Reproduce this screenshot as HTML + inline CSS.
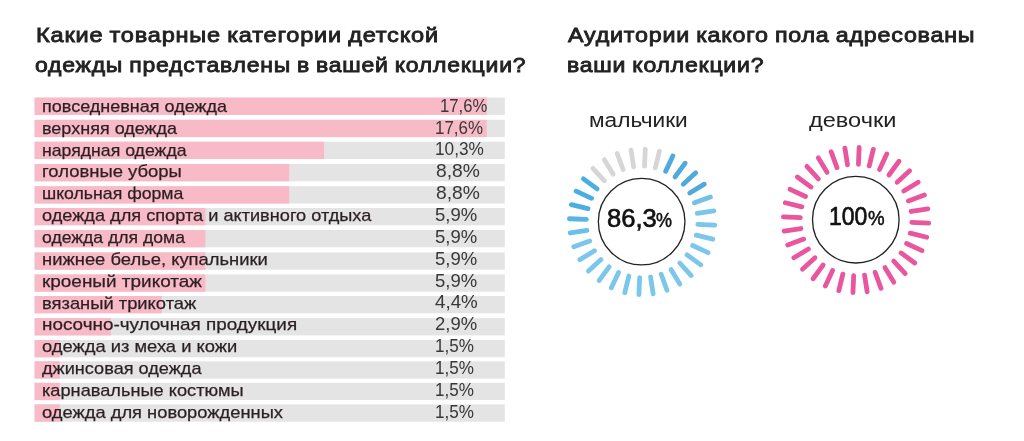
<!DOCTYPE html>
<html lang="ru"><head><meta charset="utf-8"><title>Опрос</title>
<style>
html,body{margin:0;padding:0;background:#fff}
body{width:1024px;height:441px;position:relative;overflow:hidden;font-family:"Liberation Sans", sans-serif}
.t{position:absolute;margin:0;padding:0;white-space:nowrap;transform-origin:0 50%;display:block;font-weight:400}
svg{position:absolute;left:0;top:0}
.txt{position:absolute;left:0;top:0;width:1024px;height:441px;will-change:transform}
</style></head><body>
<svg width="1024" height="441" viewBox="0 0 1024 441" fill="none" stroke-linecap="round" stroke-width="4.8">
<rect x="34.6" y="97.60" width="470.2" height="17.3" fill="#e4e4e4"/>
<rect x="34.6" y="97.60" width="452.2" height="17.3" fill="#f9bac7"/>
<rect x="34.6" y="119.80" width="470.2" height="17.3" fill="#e4e4e4"/>
<rect x="34.6" y="119.80" width="452.2" height="17.3" fill="#f9bac7"/>
<rect x="34.6" y="141.70" width="470.2" height="17.3" fill="#e4e4e4"/>
<rect x="34.6" y="141.70" width="289.5" height="17.3" fill="#f9bac7"/>
<rect x="34.6" y="164.00" width="470.2" height="17.3" fill="#e4e4e4"/>
<rect x="34.6" y="164.00" width="254.6" height="17.3" fill="#f9bac7"/>
<rect x="34.6" y="186.20" width="470.2" height="17.3" fill="#e4e4e4"/>
<rect x="34.6" y="186.20" width="254.6" height="17.3" fill="#f9bac7"/>
<rect x="34.6" y="208.00" width="470.2" height="17.3" fill="#e4e4e4"/>
<rect x="34.6" y="208.00" width="170.8" height="17.3" fill="#f9bac7"/>
<rect x="34.6" y="230.00" width="470.2" height="17.3" fill="#e4e4e4"/>
<rect x="34.6" y="230.00" width="170.8" height="17.3" fill="#f9bac7"/>
<rect x="34.6" y="252.40" width="470.2" height="17.3" fill="#e4e4e4"/>
<rect x="34.6" y="252.40" width="170.8" height="17.3" fill="#f9bac7"/>
<rect x="34.6" y="274.40" width="470.2" height="17.3" fill="#e4e4e4"/>
<rect x="34.6" y="274.40" width="170.8" height="17.3" fill="#f9bac7"/>
<rect x="34.6" y="296.00" width="470.2" height="17.3" fill="#e4e4e4"/>
<rect x="34.6" y="296.00" width="127.2" height="17.3" fill="#f9bac7"/>
<rect x="34.6" y="318.10" width="470.2" height="17.3" fill="#e4e4e4"/>
<rect x="34.6" y="318.10" width="76.2" height="17.3" fill="#f9bac7"/>
<rect x="34.6" y="340.00" width="470.2" height="17.3" fill="#e4e4e4"/>
<rect x="34.6" y="340.00" width="25.2" height="17.3" fill="#f9bac7"/>
<rect x="34.6" y="361.30" width="470.2" height="17.3" fill="#e4e4e4"/>
<rect x="34.6" y="361.30" width="25.2" height="17.3" fill="#f9bac7"/>
<rect x="34.6" y="382.80" width="470.2" height="17.3" fill="#e4e4e4"/>
<rect x="34.6" y="382.80" width="25.2" height="17.3" fill="#f9bac7"/>
<rect x="34.6" y="404.40" width="470.2" height="17.3" fill="#e4e4e4"/>
<rect x="34.6" y="404.40" width="25.2" height="17.3" fill="#f9bac7"/>
<line x1="644.53" y1="166.20" x2="645.27" y2="149.22" stroke="#d6d6d6"/>
<line x1="655.35" y1="167.75" x2="659.39" y2="151.23" stroke="#d6d6d6"/>
<line x1="665.66" y1="171.37" x2="672.85" y2="155.97" stroke="#50a9dd"/>
<line x1="675.07" y1="176.94" x2="685.12" y2="163.23" stroke="#50a9dd"/>
<line x1="683.20" y1="184.24" x2="695.74" y2="172.75" stroke="#50a9dd"/>
<line x1="689.76" y1="192.98" x2="704.29" y2="184.16" stroke="#50a9dd"/>
<line x1="694.49" y1="202.83" x2="710.46" y2="197.02" stroke="#74c0e8"/>
<line x1="697.20" y1="213.42" x2="714.00" y2="210.83" stroke="#7bc7ec"/>
<line x1="697.80" y1="224.33" x2="714.78" y2="225.07" stroke="#7bc7ec"/>
<line x1="696.25" y1="235.15" x2="712.77" y2="239.19" stroke="#7bc7ec"/>
<line x1="692.63" y1="245.46" x2="708.03" y2="252.65" stroke="#7bc7ec"/>
<line x1="687.06" y1="254.87" x2="700.77" y2="264.92" stroke="#7bc7ec"/>
<line x1="679.76" y1="263.00" x2="691.25" y2="275.54" stroke="#7bc7ec"/>
<line x1="671.02" y1="269.56" x2="679.84" y2="284.09" stroke="#7bc7ec"/>
<line x1="661.17" y1="274.29" x2="666.98" y2="290.26" stroke="#7bc7ec"/>
<line x1="650.58" y1="277.00" x2="653.17" y2="293.80" stroke="#7bc7ec"/>
<line x1="639.67" y1="277.60" x2="638.93" y2="294.58" stroke="#7bc7ec"/>
<line x1="628.85" y1="276.05" x2="624.81" y2="292.57" stroke="#7bc7ec"/>
<line x1="618.54" y1="272.43" x2="611.35" y2="287.83" stroke="#7bc7ec"/>
<line x1="609.13" y1="266.86" x2="599.08" y2="280.57" stroke="#7bc7ec"/>
<line x1="601.00" y1="259.56" x2="588.46" y2="271.05" stroke="#7bc7ec"/>
<line x1="594.44" y1="250.82" x2="579.91" y2="259.64" stroke="#7bc7ec"/>
<line x1="589.71" y1="240.97" x2="573.74" y2="246.78" stroke="#7bc7ec"/>
<line x1="587.00" y1="230.38" x2="570.20" y2="232.97" stroke="#69c0ea"/>
<line x1="586.40" y1="219.47" x2="569.42" y2="218.73" stroke="#55b6e5"/>
<line x1="587.95" y1="208.65" x2="571.43" y2="204.61" stroke="#49afe2"/>
<line x1="591.57" y1="198.34" x2="576.17" y2="191.15" stroke="#49afe2"/>
<line x1="597.14" y1="188.93" x2="583.43" y2="178.88" stroke="#49afe2"/>
<line x1="604.44" y1="180.80" x2="592.95" y2="168.26" stroke="#d6d6d6"/>
<line x1="613.18" y1="174.24" x2="604.36" y2="159.71" stroke="#d6d6d6"/>
<line x1="623.03" y1="169.51" x2="617.22" y2="153.54" stroke="#d6d6d6"/>
<line x1="633.62" y1="166.80" x2="631.03" y2="150.00" stroke="#d6d6d6"/>
<circle cx="641.65" cy="221.65" r="43.3" stroke="#222" stroke-width="1.3"/>
<line x1="858.43" y1="164.30" x2="859.16" y2="147.32" stroke="#e9569e"/>
<line x1="869.25" y1="165.84" x2="873.28" y2="149.32" stroke="#e9569e"/>
<line x1="879.57" y1="169.45" x2="886.74" y2="154.04" stroke="#e9569e"/>
<line x1="888.98" y1="175.01" x2="899.02" y2="161.29" stroke="#e9569e"/>
<line x1="897.12" y1="182.30" x2="909.64" y2="170.80" stroke="#e9569e"/>
<line x1="903.69" y1="191.04" x2="918.21" y2="182.20" stroke="#e9569e"/>
<line x1="908.42" y1="200.89" x2="924.39" y2="195.06" stroke="#e9569e"/>
<line x1="911.14" y1="211.47" x2="927.94" y2="208.87" stroke="#e9569e"/>
<line x1="911.75" y1="222.38" x2="928.73" y2="223.11" stroke="#e9569e"/>
<line x1="910.21" y1="233.20" x2="926.73" y2="237.23" stroke="#e9569e"/>
<line x1="906.60" y1="243.52" x2="922.01" y2="250.69" stroke="#e9569e"/>
<line x1="901.04" y1="252.93" x2="914.76" y2="262.97" stroke="#e9569e"/>
<line x1="893.75" y1="261.07" x2="905.25" y2="273.59" stroke="#e9569e"/>
<line x1="885.01" y1="267.64" x2="893.85" y2="282.16" stroke="#e9569e"/>
<line x1="875.16" y1="272.37" x2="880.99" y2="288.34" stroke="#e9569e"/>
<line x1="864.58" y1="275.09" x2="867.18" y2="291.89" stroke="#e9569e"/>
<line x1="853.67" y1="275.70" x2="852.94" y2="292.68" stroke="#e9569e"/>
<line x1="842.85" y1="274.16" x2="838.82" y2="290.68" stroke="#e9569e"/>
<line x1="832.53" y1="270.55" x2="825.36" y2="285.96" stroke="#e9569e"/>
<line x1="823.12" y1="264.99" x2="813.08" y2="278.71" stroke="#e9569e"/>
<line x1="814.98" y1="257.70" x2="802.46" y2="269.20" stroke="#e9569e"/>
<line x1="808.41" y1="248.96" x2="793.89" y2="257.80" stroke="#e9569e"/>
<line x1="803.68" y1="239.11" x2="787.71" y2="244.94" stroke="#e9569e"/>
<line x1="800.96" y1="228.53" x2="784.16" y2="231.13" stroke="#e9569e"/>
<line x1="800.35" y1="217.62" x2="783.37" y2="216.89" stroke="#e9569e"/>
<line x1="801.89" y1="206.80" x2="785.37" y2="202.77" stroke="#e9569e"/>
<line x1="805.50" y1="196.48" x2="790.09" y2="189.31" stroke="#e9569e"/>
<line x1="811.06" y1="187.07" x2="797.34" y2="177.03" stroke="#e9569e"/>
<line x1="818.35" y1="178.93" x2="806.85" y2="166.41" stroke="#e9569e"/>
<line x1="827.09" y1="172.36" x2="818.25" y2="157.84" stroke="#e9569e"/>
<line x1="836.94" y1="167.63" x2="831.11" y2="151.66" stroke="#e9569e"/>
<line x1="847.52" y1="164.91" x2="844.92" y2="148.11" stroke="#e9569e"/>
<circle cx="855.8" cy="219.7" r="43.3" stroke="#222" stroke-width="1.3"/>
</svg>
<div class="txt">
<h2 class="t" style="left:35.67px;top:22.00px;font-size:21px;line-height:25px;font-weight:400;color:#222;-webkit-text-stroke:0.85px #222;letter-spacing:0.7px;word-spacing:-1.0px;transform:scaleX(1.1221)">Какие товарные категории детской</h2>
<h2 class="t" style="left:35.39px;top:52.00px;font-size:21px;line-height:25px;font-weight:400;color:#222;-webkit-text-stroke:0.85px #222;letter-spacing:0.7px;word-spacing:-1.0px;transform:scaleX(1.0946)">одежды представлены в вашей коллекции?</h2>
<h2 class="t" style="left:567.97px;top:22.00px;font-size:21px;line-height:25px;font-weight:400;color:#222;-webkit-text-stroke:0.85px #222;letter-spacing:0.7px;word-spacing:-1.0px;transform:scaleX(1.1085)">Аудитории какого пола адресованы</h2>
<h2 class="t" style="left:566.63px;top:52.00px;font-size:21px;line-height:25px;font-weight:400;color:#222;-webkit-text-stroke:0.85px #222;letter-spacing:0.7px;word-spacing:-1.0px;transform:scaleX(1.0976)">ваши коллекции?</h2>
<span class="t" style="left:41.50px;top:96.50px;font-size:17px;line-height:20px;font-weight:400;color:#2a1f22;-webkit-text-stroke:0.25px #2a1f22;transform:scaleX(1.0599)">повседневная одежда</span>
<span class="t" style="left:439.57px;top:94.00px;font-size:19px;line-height:23px;font-weight:400;color:#383838;transform:scaleX(0.8770)">17,6%</span>
<span class="t" style="left:41.50px;top:118.50px;font-size:17px;line-height:20px;font-weight:400;color:#2a1f22;-webkit-text-stroke:0.25px #2a1f22;transform:scaleX(1.0590)">верхняя одежда</span>
<span class="t" style="left:435.05px;top:116.00px;font-size:19px;line-height:23px;font-weight:400;color:#383838;transform:scaleX(0.8905)">17,6%</span>
<span class="t" style="left:41.50px;top:140.50px;font-size:17px;line-height:20px;font-weight:400;color:#2a1f22;-webkit-text-stroke:0.25px #2a1f22;transform:scaleX(1.0396)">нарядная одежда</span>
<span class="t" style="left:435.43px;top:137.00px;font-size:19px;line-height:23px;font-weight:400;color:#383838;transform:scaleX(0.9059)">10,3%</span>
<span class="t" style="left:41.50px;top:161.50px;font-size:17px;line-height:20px;font-weight:400;color:#2a1f22;-webkit-text-stroke:0.25px #2a1f22;transform:scaleX(1.0856)">головные уборы</span>
<span class="t" style="left:435.69px;top:159.00px;font-size:19px;line-height:23px;font-weight:400;color:#383838;transform:scaleX(1.0140)">8,8%</span>
<span class="t" style="left:41.50px;top:183.50px;font-size:17px;line-height:20px;font-weight:400;color:#2a1f22;-webkit-text-stroke:0.25px #2a1f22;transform:scaleX(1.0396)">школьная форма</span>
<span class="t" style="left:435.69px;top:181.00px;font-size:19px;line-height:23px;font-weight:400;color:#383838;transform:scaleX(1.0140)">8,8%</span>
<span class="t" style="left:41.50px;top:205.50px;font-size:17px;line-height:20px;font-weight:400;color:#2a1f22;-webkit-text-stroke:0.25px #2a1f22;transform:scaleX(1.0686)">одежда для спорта и активного отдыха</span>
<span class="t" style="left:435.32px;top:203.00px;font-size:19px;line-height:23px;font-weight:400;color:#383838;transform:scaleX(0.9735)">5,9%</span>
<span class="t" style="left:41.50px;top:227.50px;font-size:17px;line-height:20px;font-weight:400;color:#2a1f22;-webkit-text-stroke:0.25px #2a1f22;transform:scaleX(1.0363)">одежда для дома</span>
<span class="t" style="left:435.32px;top:225.00px;font-size:19px;line-height:23px;font-weight:400;color:#383838;transform:scaleX(0.9735)">5,9%</span>
<span class="t" style="left:41.50px;top:249.50px;font-size:17px;line-height:20px;font-weight:400;color:#2a1f22;-webkit-text-stroke:0.25px #2a1f22;transform:scaleX(1.0818)">нижнее белье, купальники</span>
<span class="t" style="left:435.32px;top:247.00px;font-size:19px;line-height:23px;font-weight:400;color:#383838;transform:scaleX(0.9735)">5,9%</span>
<span class="t" style="left:41.50px;top:271.50px;font-size:17px;line-height:20px;font-weight:400;color:#2a1f22;-webkit-text-stroke:0.25px #2a1f22;transform:scaleX(1.1145)">кроеный трикотаж</span>
<span class="t" style="left:435.32px;top:269.00px;font-size:19px;line-height:23px;font-weight:400;color:#383838;transform:scaleX(0.9735)">5,9%</span>
<span class="t" style="left:41.50px;top:293.50px;font-size:17px;line-height:20px;font-weight:400;color:#2a1f22;-webkit-text-stroke:0.25px #2a1f22;transform:scaleX(1.0793)">вязаный трикотаж</span>
<span class="t" style="left:435.20px;top:290.00px;font-size:19px;line-height:23px;font-weight:400;color:#383838;transform:scaleX(0.9879)">4,4%</span>
<span class="t" style="left:41.50px;top:314.50px;font-size:17px;line-height:20px;font-weight:400;color:#2a1f22;-webkit-text-stroke:0.25px #2a1f22;transform:scaleX(1.1100)">носочно-чулочная продукция</span>
<span class="t" style="left:435.32px;top:312.00px;font-size:19px;line-height:23px;font-weight:400;color:#383838;transform:scaleX(0.9734)">2,9%</span>
<span class="t" style="left:41.50px;top:336.50px;font-size:17px;line-height:20px;font-weight:400;color:#2a1f22;-webkit-text-stroke:0.25px #2a1f22;transform:scaleX(1.0788)">одежда из меха и кожи</span>
<span class="t" style="left:434.84px;top:334.00px;font-size:19px;line-height:23px;font-weight:400;color:#383838;transform:scaleX(0.8980)">1,5%</span>
<span class="t" style="left:41.50px;top:358.50px;font-size:17px;line-height:20px;font-weight:400;color:#2a1f22;-webkit-text-stroke:0.25px #2a1f22;transform:scaleX(1.0666)">джинсовая одежда</span>
<span class="t" style="left:434.84px;top:356.00px;font-size:19px;line-height:23px;font-weight:400;color:#383838;transform:scaleX(0.8980)">1,5%</span>
<span class="t" style="left:41.50px;top:380.50px;font-size:17px;line-height:20px;font-weight:400;color:#2a1f22;-webkit-text-stroke:0.25px #2a1f22;transform:scaleX(1.0707)">карнавальные костюмы</span>
<span class="t" style="left:434.84px;top:378.00px;font-size:19px;line-height:23px;font-weight:400;color:#383838;transform:scaleX(0.8980)">1,5%</span>
<span class="t" style="left:41.50px;top:402.50px;font-size:17px;line-height:20px;font-weight:400;color:#2a1f22;-webkit-text-stroke:0.25px #2a1f22;transform:scaleX(1.0777)">одежда для новорожденных</span>
<span class="t" style="left:434.84px;top:400.00px;font-size:19px;line-height:23px;font-weight:400;color:#383838;transform:scaleX(0.8980)">1,5%</span>
<span class="t" style="left:588.75px;top:107.00px;font-size:20.5px;line-height:25px;font-weight:400;color:#222;transform:scaleX(1.1055)">мальчики</span>
<span class="t" style="left:809.37px;top:107.00px;font-size:20.5px;line-height:25px;font-weight:400;color:#222;transform:scaleX(1.1486)">девочки</span>
<span class="t" style="left:606.54px;top:202.00px;font-size:26.5px;line-height:32px;font-weight:400;color:#111;-webkit-text-stroke:0.7px #111;transform:scaleX(0.9648)">86,3</span>
<span class="t" style="left:656.38px;top:208.50px;font-size:19.5px;line-height:23px;font-weight:400;color:#111;-webkit-text-stroke:0.5px #111;transform:scaleX(0.9217)">%</span>
<span class="t" style="left:829.17px;top:200.00px;font-size:26.5px;line-height:32px;font-weight:400;color:#111;-webkit-text-stroke:0.7px #111;transform:scaleX(0.8662)">100</span>
<span class="t" style="left:867.96px;top:206.50px;font-size:19.5px;line-height:23px;font-weight:400;color:#111;-webkit-text-stroke:0.5px #111;transform:scaleX(0.9578)">%</span>
</div>
</body></html>
